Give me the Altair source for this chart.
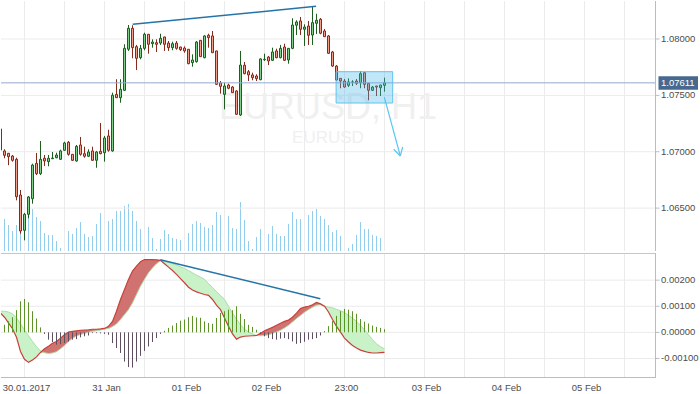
import altair as alt
import pandas as pd

# ---------------- data ----------------
# hourly bar index; bar -1 is only partly visible at the left edge
bar_idx = list(range(-1, 96))
opens = [1.07202, 1.07007, 1.06986, 1.06962, 1.06933, 1.06616, 1.06303, 1.06445, 1.06583, 1.06897,
         1.06805, 1.06942, 1.06912, 1.06938, 1.06947, 1.06933, 1.07013, 1.07084, 1.06977, 1.06918,
         1.07060, 1.06983, 1.06960, 1.07007, 1.06924, 1.07004, 1.06991, 1.07140, 1.07007, 1.07509,
         1.07479, 1.07545, 1.07909, 1.08095, 1.07932, 1.07834, 1.07917, 1.08042, 1.07958, 1.07967,
         1.07964, 1.08018, 1.07964, 1.07923, 1.07964, 1.07929, 1.07920, 1.07909, 1.07790, 1.07799,
         1.07988, 1.07834, 1.08033, 1.08027, 1.07894, 1.07610, 1.07509, 1.07592, 1.07574, 1.07539,
         1.07326, 1.07767, 1.07710, 1.07681, 1.07672, 1.07639, 1.07816, 1.07840, 1.07811, 1.07894,
         1.07834, 1.07929, 1.07814, 1.07917, 1.08122, 1.08160, 1.08086, 1.08115, 1.08035, 1.08139,
         1.08175, 1.08071, 1.08027, 1.07885, 1.07760, 1.07651, 1.07627, 1.07589, 1.07617, 1.07627,
         1.07612, 1.07701, 1.07607, 1.07545, 1.07583, 1.07568, 1.07589]
highs = [1.07219, 1.07022, 1.06989, 1.06971, 1.06947, 1.06661, 1.06457, 1.06607, 1.06894, 1.06989,
         1.07095, 1.06971, 1.06971, 1.06998, 1.06991, 1.07018, 1.07089, 1.07095, 1.06980, 1.07060,
         1.07131, 1.07045, 1.07022, 1.07045, 1.07007, 1.07255, 1.07140, 1.07195, 1.07524, 1.07643,
         1.07643, 1.07953, 1.08124, 1.08122, 1.07947, 1.07947, 1.08056, 1.08044, 1.07997, 1.07997,
         1.08047, 1.08020, 1.07982, 1.07976, 1.07982, 1.07931, 1.07935, 1.07911, 1.07864, 1.07982,
         1.07991, 1.08033, 1.08047, 1.08071, 1.07896, 1.07627, 1.07612, 1.07604, 1.07583, 1.07545,
         1.07894, 1.07796, 1.07725, 1.07701, 1.07687, 1.07829, 1.07870, 1.07849, 1.07923, 1.07914,
         1.07947, 1.07958, 1.07920, 1.08184, 1.08166, 1.08195, 1.08130, 1.08160, 1.08284, 1.08224,
         1.08186, 1.08089, 1.08035, 1.07894, 1.07769, 1.07654, 1.07645, 1.07651, 1.07634, 1.07645,
         1.07716, 1.07707, 1.07610, 1.07583, 1.07585, 1.07592, 1.07657]
lows = [1.06998, 1.06942, 1.06880, 1.06912, 1.06569, 1.06273, 1.06214, 1.06410, 1.06539, 1.06794,
        1.06794, 1.06873, 1.06871, 1.06936, 1.06942, 1.06927, 1.07007, 1.06965, 1.06918, 1.06912,
        1.06965, 1.06947, 1.06953, 1.06918, 1.06858, 1.06977, 1.06912, 1.07000, 1.07000, 1.07477,
        1.07435, 1.07539, 1.07894, 1.07829, 1.07725, 1.07820, 1.07900, 1.07870, 1.07923, 1.07885,
        1.07947, 1.07894, 1.07894, 1.07900, 1.07905, 1.07894, 1.07878, 1.07776, 1.07754, 1.07790,
        1.07840, 1.07829, 1.07923, 1.07876, 1.07592, 1.07515, 1.07376, 1.07554, 1.07521, 1.07326,
        1.07317, 1.07687, 1.07627, 1.07634, 1.07627, 1.07634, 1.07805, 1.07769, 1.07805, 1.07829,
        1.07829, 1.07805, 1.07781, 1.07909, 1.08035, 1.08035, 1.07938, 1.07947, 1.07947, 1.08044,
        1.08042, 1.08018, 1.07867, 1.07752, 1.07627, 1.07563, 1.07568, 1.07574, 1.07583, 1.07592,
        1.07563, 1.07563, 1.07456, 1.07539, 1.07494, 1.07494, 1.07533]
closes = [1.07015, 1.06968, 1.06956, 1.06924, 1.06601, 1.06297, 1.06445, 1.06599, 1.06882, 1.06805,
          1.06933, 1.06918, 1.06942, 1.06944, 1.06971, 1.07007, 1.07078, 1.06977, 1.06924, 1.07048,
          1.06977, 1.06960, 1.06998, 1.06924, 1.06998, 1.06983, 1.07122, 1.07013, 1.07501, 1.07479,
          1.07554, 1.07917, 1.08095, 1.07923, 1.07829, 1.07917, 1.08042, 1.07953, 1.07973, 1.07953,
          1.08006, 1.07953, 1.07923, 1.07958, 1.07917, 1.07905, 1.07894, 1.07781, 1.07814, 1.07973,
          1.07843, 1.08027, 1.08012, 1.07878, 1.07598, 1.07580, 1.07583, 1.07563, 1.07524, 1.07332,
          1.07769, 1.07692, 1.07681, 1.07657, 1.07648, 1.07823, 1.07820, 1.07805, 1.07885, 1.07834,
          1.07917, 1.07811, 1.07917, 1.08124, 1.08151, 1.08086, 1.08106, 1.08033, 1.08145, 1.08166,
          1.08051, 1.08020, 1.07873, 1.07760, 1.07636, 1.07627, 1.07574, 1.07619, 1.07619, 1.07607,
          1.07692, 1.07598, 1.07545, 1.07574, 1.07574, 1.07592, 1.07611]

vol_idx = list(range(0, 96))
volume = [32, 26, 20, 26, 37, 40, 42, 42, 34, 30,
          18, 16, 16, 10, 3, 16, 20, 17, 23, 29,
          17, 14, 15, 27, 38, 33, 30, 32, 40, 40,
          45, 47, 40, 30, 22, 25, 24, 13, 2, 12,
          21, 17, 13, 12, 11, 8, 18, 27, 30, 28,
          24, 23, 26, 39, 36, 42, 35, 23, 22, 49,
          31, 10, 2, 14, 22, 21, 17, 25, 17, 15,
          15, 27, 39, 32, 32, 28, 36, 40, 42, 35,
          32, 26, 19, 21, 15, 9, 3, 7, 16, 29,
          22, 22, 16, 15, 13, 16]

macd_fast = [0.00074, 0.00058, 0.00036, 0.00014, -0.00019, -0.00073, -0.00103, -0.00115, -0.00106, -0.00094,
             -0.00077, -0.00063, -0.00053, -0.00042, -0.00035, -0.00022, -0.00009, 0.00001, 0.00004, 0.00006,
             0.00008, 0.00009, 0.00010, 0.00012, 0.00012, 0.00013, 0.00015, 0.00023, 0.00042, 0.00081,
             0.00126, 0.00164, 0.00203, 0.00235, 0.00254, 0.00271, 0.00279, 0.00279, 0.00279, 0.00278,
             0.00276, 0.00263, 0.00250, 0.00237, 0.00222, 0.00206, 0.00190, 0.00173, 0.00162, 0.00155,
             0.00150, 0.00145, 0.00142, 0.00126, 0.00104, 0.00087, 0.00055, 0.00023, -0.00006, -0.00026,
             -0.00018, -0.00015, -0.00014, -0.00013, -0.00012, -0.00004, 0.00006, 0.00013, 0.00019, 0.00027,
             0.00035, 0.00042, 0.00047, 0.00058, 0.00074, 0.00091, 0.00097, 0.00100, 0.00106, 0.00115,
             0.00109, 0.00100, 0.00078, 0.00049, 0.00023, 0.00001, -0.00022, -0.00037, -0.00050, -0.00060,
             -0.00068, -0.00073, -0.00077, -0.00079, -0.00079, -0.00078, -0.00077]
macd_signal = [0.00081, 0.00081, 0.00078, 0.00071, 0.00055, 0.00033, 0.00010, -0.00013, -0.00035, -0.00055,
               -0.00071, -0.00078, -0.00081, -0.00079, -0.00074, -0.00063, -0.00050, -0.00035, -0.00023, -0.00014,
               -0.00008, -0.00004, 0.00000, 0.00004, 0.00006, 0.00009, 0.00012, 0.00015, 0.00022, 0.00032,
               0.00049, 0.00068, 0.00087, 0.00113, 0.00145, 0.00177, 0.00203, 0.00228, 0.00247, 0.00263,
               0.00274, 0.00272, 0.00268, 0.00263, 0.00258, 0.00251, 0.00245, 0.00237, 0.00228, 0.00219,
               0.00212, 0.00203, 0.00187, 0.00172, 0.00156, 0.00141, 0.00126, 0.00100, 0.00074, 0.00051,
               0.00029, 0.00013, 0.00001, -0.00006, -0.00012, -0.00013, -0.00012, -0.00009, -0.00004, 0.00001,
               0.00008, 0.00017, 0.00027, 0.00040, 0.00053, 0.00065, 0.00077, 0.00087, 0.00096, 0.00104,
               0.00106, 0.00100, 0.00097, 0.00094, 0.00088, 0.00083, 0.00076, 0.00065, 0.00055, 0.00042,
               0.00027, 0.00010, -0.00009, -0.00028, -0.00044, -0.00055, -0.00063]
macd_hist = [0.00029, 0.00042, 0.00058, 0.00085, 0.00119, 0.00128, 0.00115, 0.00081, 0.00053, 0.00019,
             -0.00006, -0.00028, -0.00037, -0.00047, -0.00045, -0.00041, -0.00035, -0.00028, -0.00026, -0.00019,
             -0.00015, -0.00012, -0.00003, -0.00003, -0.00004, -0.00006, -0.00009, -0.00041, -0.00060, -0.00079,
             -0.00112, -0.00133, -0.00135, -0.00112, -0.00090, -0.00071, -0.00054, -0.00037, -0.00022, -0.00006,
             0.00006, 0.00017, 0.00026, 0.00036, 0.00045, 0.00049, 0.00058, 0.00063, 0.00057, 0.00056,
             0.00042, 0.00036, 0.00033, 0.00055, 0.00074, 0.00081, 0.00087, 0.00085, 0.00100, 0.00071,
             0.00051, 0.00029, 0.00021, 0.00010, -0.00006, -0.00015, -0.00022, -0.00026, -0.00028, -0.00024,
             -0.00022, -0.00026, -0.00035, -0.00044, -0.00041, -0.00036, -0.00028, -0.00026, -0.00022, -0.00012,
             0.00005, 0.00024, 0.00043, 0.00063, 0.00081, 0.00090, 0.00087, 0.00081, 0.00071, 0.00051,
             0.00041, 0.00034, 0.00026, 0.00021, 0.00017, 0.00012]

last_price = [1.07611]
last_label = ["1.07611"]
price_ticks = [1.065, 1.07, 1.075, 1.08]
price_tick_labels = ["1.06500", "1.07000", "1.07500", "1.08000"]
macd_ticks = [-0.001, 0.0, 0.001, 0.002]
macd_tick_labels = ["-0.00100", "0.00000", "0.00100", "0.00200"]
tick_idx = [5, 15, 25, 35, 45, 55, 65, 75, 85, 95, 105, 115, 125, 135, 145, 155]
tick_text = ["30.01.2017", "", "31 Jan", "", "01 Feb", "", "02 Feb", "", "23:00", "",
             "03 Feb", "", "04 Feb", "", "05 Feb", ""]

# drawings (bar index, price)
trend_price = {"x1": [32.05], "y1": [1.08130], "x2": [77.9], "y2": [1.08290]}
trend_macd = {"x1": [38.95], "y1": [0.00278], "x2": [78.95], "y2": [0.00129]}
box = {"x1": [82.9], "x2": [97.05], "y1": [1.07710], "y2": [1.07432]}
arrow = {"x1": [94.95, 98.95, 98.95], "y1": [1.07485, 1.06962, 1.06962],
         "x2": [98.95, 97.3, 99.55], "y2": [1.06962, 1.07022, 1.07042]}

# ---------------- styling ----------------
W, H1, H2 = 654, 250, 124
X_DOMAIN = [-0.875, 162.625]
PRICE_DOMAIN = [1.061195, 1.08337]
MACD_DOMAIN = [-0.00171, 0.00304]
VOL_DOMAIN = [0, 250]
GRID = "#ebebeb"
AXIS = "#b9bcc2"
LABEL = "#4d4d4d"
FONT = "Liberation Sans"
FS = 9.5
UP_FILL, UP_EDGE = "#7fd088", "#1d5e20"
DN_FILL, DN_EDGE = "#f29f8b", "#862a1c"

candles = pd.DataFrame({"idx": bar_idx, "open": opens, "high": highs, "low": lows, "close": closes})
vol_df = pd.DataFrame({"idx": vol_idx, "volume": volume})
macd_df = pd.DataFrame({"idx": bar_idx, "fast": macd_fast, "slow": macd_signal})
hist_df = pd.DataFrame({"idx": vol_idx, "hist": macd_hist})
xt_df = pd.DataFrame({"idx": tick_idx, "label": tick_text})
pt_df = pd.DataFrame({"p": price_ticks, "label": price_tick_labels})
mt_df = pd.DataFrame({"m": macd_ticks, "label": macd_tick_labels})
last_df = pd.DataFrame({"p": last_price, "label": last_label})
one = pd.DataFrame({"a": [0]})

x_scale = alt.Scale(domain=X_DOMAIN, nice=False, zero=False, padding=0)
p_scale = alt.Scale(domain=PRICE_DOMAIN, nice=False, zero=False, padding=0)
m_scale = alt.Scale(domain=MACD_DOMAIN, nice=False, zero=False, padding=0)

X = lambda f: alt.X(f"{f}:Q", scale=x_scale, axis=None)
P = lambda f: alt.Y(f"{f}:Q", scale=p_scale, axis=None)
M = lambda f: alt.Y(f"{f}:Q", scale=m_scale, axis=None)
up = alt.datum.close >= alt.datum.open

# ---------------- price panel ----------------
vol_layer = alt.Chart(vol_df).mark_rule(color="#93cdee", strokeWidth=1, clip=True).encode(
    x=X("idx"),
    y=alt.Y("volume:Q", scale=alt.Scale(domain=VOL_DOMAIN, nice=False, zero=True, padding=0), axis=None),
    y2=alt.datum(0),
)

grid_v1 = alt.Chart(xt_df).mark_rule(color=GRID, strokeWidth=1).encode(x=X("idx"))
grid_h1 = alt.Chart(pt_df).mark_rule(color=GRID, strokeWidth=1).encode(y=P("p"))

wm = alt.Chart(pd.DataFrame({"t": ["EURUSD, H1"]})).mark_text(
    font=FONT, fontSize=36, color="#f0f0f0", align="center",
    baseline="alphabetic").encode(text="t:N", x=alt.value(327), y=alt.value(118))
wm2 = alt.Chart(pd.DataFrame({"t": ["EURUSD"]})).mark_text(
    font=FONT, fontSize=17, color="#f0f0f0", align="center",
    baseline="alphabetic").encode(text="t:N", x=alt.value(327), y=alt.value(142))

wicks = alt.Chart(candles).mark_rule(strokeWidth=1, clip=True).encode(
    x=X("idx"), y=P("low"), y2="high:Q",
    color=alt.condition(up, alt.value(UP_EDGE), alt.value(DN_EDGE)),
)
bodies = alt.Chart(candles).mark_bar(width=2, strokeWidth=1, clip=True).encode(
    x=X("idx"), y=P("open"), y2="close:Q",
    fill=alt.condition(up, alt.value(UP_FILL), alt.value(DN_FILL)),
    stroke=alt.condition(up, alt.value(UP_EDGE), alt.value(DN_EDGE)),
)
price_line = alt.Chart(last_df).mark_rule(color="#93aacb", strokeWidth=1).encode(y=P("p"))
trend1 = alt.Chart(pd.DataFrame(trend_price)).mark_rule(color="#2574a8", strokeWidth=1.5).encode(
    x=X("x1"), x2="x2:Q", y=P("y1"), y2="y2:Q")
rect = alt.Chart(pd.DataFrame(box)).mark_rect(fill="#42b4e6", fillOpacity=0.33,
                                               stroke="#5ec3ee", strokeWidth=1).encode(
    x=X("x1"), x2="x2:Q", y=P("y1"), y2="y2:Q")
arrow_l = alt.Chart(pd.DataFrame(arrow)).mark_rule(color="#5bc6f2", strokeWidth=1.2).encode(
    x=X("x1"), x2="x2:Q", y=P("y1"), y2="y2:Q")

# right price scale (drawn as marks)
dom_r1 = alt.Chart(one).mark_rule(color=AXIS, strokeWidth=1).encode(
    x=alt.value(W + 0.5), y=alt.value(0), y2=alt.value(H1))
tick_r1 = alt.Chart(pt_df).mark_rule(color=AXIS, strokeWidth=1).encode(
    x=alt.value(W + 0.5), x2=alt.value(W + 4.5), y=P("p"))
lab_r1 = alt.Chart(pt_df).mark_text(font=FONT, fontSize=FS, color=LABEL, align="left",
                                    baseline="middle").encode(
    x=alt.value(W + 6), y=P("p"), text="label:N")
tag_box = alt.Chart(last_df).mark_rect(color="#48698f", yOffset=-6.5, y2Offset=7).encode(
    x=alt.value(W + 3.5), x2=alt.value(W + 43), y=P("p"), y2="p:Q")
tag_txt = alt.Chart(last_df).mark_text(color="white", font=FONT, fontSize=FS, align="left",
                                       baseline="middle", dy=0.5).encode(
    x=alt.value(W + 6), y=P("p"), text="label:N")

price_group = alt.layer(grid_v1, grid_h1, wm, wm2, wicks, bodies, price_line, trend1, rect,
                        arrow_l, dom_r1, tick_r1, lab_r1, tag_box, tag_txt)
top = alt.layer(vol_layer, price_group).resolve_scale(y="independent").properties(width=W, height=H1)

# ---------------- MACD panel ----------------
grid_v2 = alt.Chart(xt_df).mark_rule(color=GRID, strokeWidth=1).encode(x=X("idx"))
grid_h2 = alt.Chart(mt_df).mark_rule(color=GRID, strokeWidth=1).encode(y=M("m"))
mbase = alt.Chart(macd_df).transform_calculate(lo="min(datum.fast, datum.slow)")
red_area = mbase.mark_area(color="#cd6b68", opacity=0.95, clip=True).encode(
    x=X("idx"), y=M("fast"), y2="lo:Q")
green_area = mbase.mark_area(color="#c9f2c9", clip=True).encode(
    x=X("idx"), y=M("slow"), y2="lo:Q")
slow_line = mbase.mark_line(color="#a9dfa9", strokeWidth=1, clip=True).encode(
    x=X("idx"), y=M("slow"))
fast_line = mbase.mark_line(color="#c8403a", strokeWidth=1.2, clip=True).encode(
    x=X("idx"), y=M("fast"))
hist = alt.Chart(hist_df).mark_rule(strokeWidth=1, clip=True).encode(
    x=X("idx"), y=M("hist"), y2=alt.datum(0),
    color=alt.condition(alt.datum.hist > 0, alt.value("#5c9226"), alt.value("#5e4f5f")))
trend2 = alt.Chart(pd.DataFrame(trend_macd)).mark_rule(color="#2574a8", strokeWidth=1.5).encode(
    x=X("x1"), x2="x2:Q", y=M("y1"), y2="y2:Q")
sep = alt.Chart(one).mark_rule(color="#c4c6ca", strokeWidth=1).encode(
    x=alt.value(0), x2=alt.value(W + 1), y=alt.value(0.5))
dom_b2 = alt.Chart(one).mark_rule(color=AXIS, strokeWidth=1).encode(
    x=alt.value(0), x2=alt.value(W + 1), y=alt.value(H2 + 0.5))
dom_r2 = alt.Chart(one).mark_rule(color=AXIS, strokeWidth=1).encode(
    x=alt.value(W + 0.5), y=alt.value(0), y2=alt.value(H2))
tick_r2 = alt.Chart(mt_df).mark_rule(color=AXIS, strokeWidth=1).encode(
    x=alt.value(W + 0.5), x2=alt.value(W + 4.5), y=M("m"))
lab_r2 = alt.Chart(mt_df).mark_text(font=FONT, fontSize=FS, color=LABEL, align="left",
                                    baseline="middle").encode(
    x=alt.value(W + 6), y=M("m"), text="label:N")
lab_b2 = alt.Chart(xt_df).mark_text(font=FONT, fontSize=FS, color=LABEL, align="center",
                                    baseline="middle", dx=2).encode(
    x=X("idx"), y=alt.value(H2 + 11), text="label:N")

bottom = alt.layer(grid_v2, grid_h2, red_area, green_area, slow_line, fast_line, hist, trend2,
                   sep, dom_b2, dom_r2, tick_r2, lab_r2, lab_b2).properties(width=W, height=H2)

chart = alt.vconcat(top, bottom, spacing=0).properties(
    padding={"left": 0, "top": 0, "right": 0, "bottom": 0},
    background="white",
).configure_view(stroke=None)

chart.save("out.html", embed_options={"renderer": "svg", "actions": False})
